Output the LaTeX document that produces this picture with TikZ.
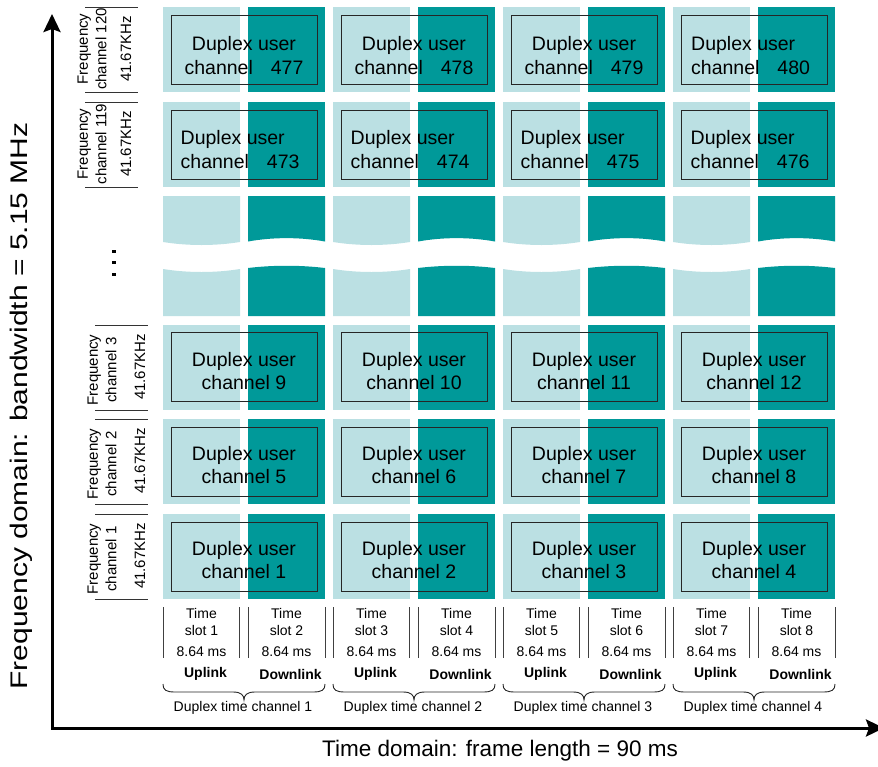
\documentclass[tikz,border=0pt]{standalone}
\usepackage{fontspec}
\setmainfont{Liberation Sans}
\usetikzlibrary{arrows.meta}
\definecolor{lightc}{RGB}{187,224,227}
\definecolor{darkc}{RGB}{0,153,153}
\begin{document}
\begin{tikzpicture}[x=1pt,y=-1pt,
  innerbox/.style={draw=black!85,line width=0.9pt,minimum width=146pt,minimum height=69pt,inner sep=0pt,outer sep=0pt},
  celltxt/.style={font=\fontsize{19.5}{22.5}\selectfont,align=center,inner sep=0pt},
  celltxttop/.style={font=\fontsize{19.5}{24}\selectfont,align=center,inner sep=0pt},
  celltxtleft/.style={font=\fontsize{19.5}{24}\selectfont,align=left,inner sep=0pt,anchor=west},
  labtxt/.style={font=\fontsize{15}{18.5}\selectfont,align=center,inner sep=0pt,rotate=90},
  labline/.style={draw=black!80,line width=1pt},
  slotline/.style={draw=black!75,line width=0.9pt},
  smalltxt/.style={font=\fontsize{14}{17}\selectfont,align=center,inner sep=0pt},
  boldtxt/.style={font=\fontsize{14}{17}\selectfont\bfseries,inner sep=0pt},
  bracestyle/.style={draw=black!85,line width=0.9pt},
  axisline/.style={line width=3pt,line join=miter,{Stealth[length=18pt,width=17pt,inset=3pt]}-{Stealth[length=18pt,width=17pt,inset=3pt]}},
  bigtxt/.style={font=\fontsize{22.5}{27}\selectfont,inner sep=0pt},
  ylabtxt/.style={font=\fontsize{24}{28}\selectfont,inner sep=0pt,rotate=90}
]
\useasboundingbox (0,0) rectangle (878,766);

% ---------- cells ----------
\foreach \c in {0,1,2,3}{
  \pgfmathsetmacro{\lx}{163+170*\c}
  \pgfmathsetmacro{\dx}{\lx+85}
  \foreach \yt in {7,102,325,419,514}{
    \fill[lightc] (\lx,\yt) rectangle ++(77,85);
    \fill[darkc] (\dx,\yt) rectangle ++(77,85);
  }
  % break row (wavy white band)
  \fill[lightc] (\lx,196) -- (\lx+77,196) -- (\lx+77,242)
     .. controls (\lx+52,246) and (\lx+25,246) .. (\lx,242) -- cycle;
  \fill[lightc] (\lx,269) .. controls (\lx+25,273) and (\lx+52,273) .. (\lx+77,269)
     -- (\lx+77,316) -- (\lx,316) -- cycle;
  \fill[darkc] (\dx,196) -- (\dx+77,196) -- (\dx+77,241.5)
     .. controls (\dx+52,237) and (\dx+25,237) .. (\dx,241.5) -- cycle;
  \fill[darkc] (\dx,268) .. controls (\dx+25,265) and (\dx+52,265) .. (\dx+77,268)
     -- (\dx+77,316) -- (\dx,316) -- cycle;
}

% ---------- inner boxes and texts ----------
\foreach \c in {0,1,2,3}{
  \pgfmathsetmacro{\lx}{163+170*\c}
  \pgfmathtruncatemacro{\na}{477+\c}
  \pgfmathtruncatemacro{\nb}{473+\c}
  \pgfmathtruncatemacro{\nc}{9+\c}
  \pgfmathtruncatemacro{\nd}{5+\c}
  \pgfmathtruncatemacro{\ne}{1+\c}
  \node[innerbox] (box\na) at (\lx+81,49.5) {};
  \node[innerbox] (box\nb) at (\lx+81,144.5) {};
  \node[innerbox] (box\nc) at (\lx+81,367) {};
  \node[innerbox] (box\nd) at (\lx+81,461.5) {};
  \node[innerbox] (box\ne) at (\lx+81,556.5) {};
  \ifnum\c<3
    \node[celltxttop] (txt\na) at (\lx+81,55.5) {Duplex user\\channel\hspace{18pt}\na};
  \else
    \node[celltxtleft] (txt\na) at (\lx+18,55.5) {Duplex user\\channel\hspace{18pt}\na};
  \fi
  \node[celltxtleft] (txt\nb) at (\lx+17.5,150) {Duplex user\\channel\hspace{18pt}\nb};
  \node[celltxt] (txt\nc) at (\lx+81,371) {Duplex user\\channel \nc};
  \node[celltxt] (txt\nd) at (\lx+81,465) {Duplex user\\channel \nd};
  \node[celltxt] (txt\ne) at (\lx+81,560) {Duplex user\\channel \ne};
}

% ---------- frequency channel labels ----------
\foreach \yt/\n/\xo/\yo in {7/120/0/42,102/119/0/42,325/3/10/45,419/2/10/45,514/1/10/45}{
  \draw[labline] (85+\xo,\yt) -- (138+\xo,\yt);
  \draw[labline] (85+\xo,\yt+85) -- (138+\xo,\yt+85);
  \node[labtxt] (fq\n) at (92+\xo,\yt+\yo) {Frequency\\channel \n};
  \node[labtxt] (bw\n) at (126+1.4*\xo,\yt+42) {41.67KHz};
}

% ---------- vertical ellipsis ----------
\fill (112.3,249.6) rectangle ++(3.4,3.4);
\fill (112.3,261) rectangle ++(3.4,3.4);
\fill (112.3,272.6) rectangle ++(3.4,3.4);

% ---------- time slot labels ----------
\foreach \c in {0,1,2,3}{
  \pgfmathsetmacro{\lx}{163+170*\c}
  \pgfmathtruncatemacro{\ka}{2*\c+1}
  \pgfmathtruncatemacro{\kb}{2*\c+2}
  \pgfmathtruncatemacro{\dc}{\c+1}
  \draw[slotline] (\lx,607) -- (\lx,658);
  \draw[slotline] (\lx+76,607) -- (\lx+76,658);
  \draw[slotline] (\lx+85,607) -- (\lx+85,658);
  \draw[slotline] (\lx+162,607) -- (\lx+162,658);
  \node[smalltxt] (ts\ka) at (\lx+38.5,622) {Time\\slot \ka};
  \node[smalltxt] (ts\kb) at (\lx+123.5,622) {Time\\slot \kb};
  \node[smalltxt] (ms\ka) at (\lx+38.5,652) {8.64 ms};
  \node[smalltxt] (ms\kb) at (\lx+123.5,652) {8.64 ms};
  \node[boldtxt] (up\dc) at (\lx+42.5,674) {Uplink};
  \node[boldtxt] (dn\dc) at (\lx+127.5,674) {Downlink};
  \draw[bracestyle] (\lx,684) .. controls (\lx,690) and (\lx+3,692) .. (\lx+12,692)
     -- (\lx+70,692) .. controls (\lx+78,692) and (\lx+81,695) .. (\lx+81,700)
     .. controls (\lx+81,695) and (\lx+84,692) .. (\lx+92,692)
     -- (\lx+150,692) .. controls (\lx+159,692) and (\lx+162,690) .. (\lx+162,684);
  \node[smalltxt] (dtc\dc) at (\lx+80,708) {Duplex time channel \dc};
}

% ---------- axes ----------
\coordinate (origin) at (52,728);
\coordinate (ytip) at (52,14);
\coordinate (xtip) at (884,728);
\draw[axisline] (ytip) -- (origin) -- (xtip);
\node[ylabtxt] (ylab) at (21,406) {\scalebox{1.25}[1]{Frequency domain: bandwidth = 5.15 MHz}};
\node[bigtxt] (xlab) at (500,751) {Time domain: frame length = 90 ms};
\end{tikzpicture}
\end{document}
